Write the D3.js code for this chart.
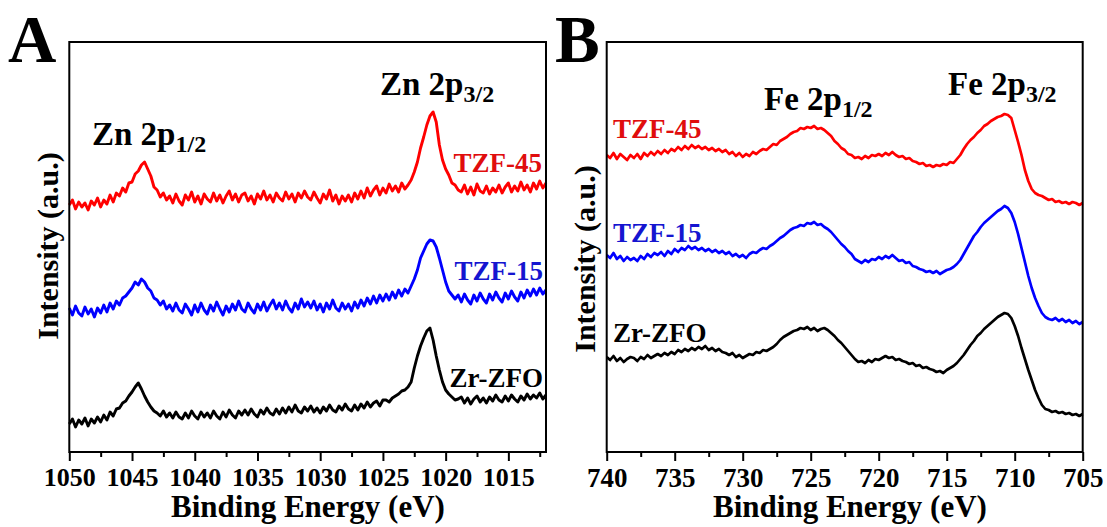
<!DOCTYPE html>
<html>
<head>
<meta charset="utf-8">
<script src="https://cdn.jsdelivr.net/npm/d3@7.9.0/dist/d3.min.js"></script>
<style>
  html, body { margin: 0; padding: 0; background: #fff; }
  svg { display: block; }
  text { font-family: "Liberation Serif", "Times New Roman", serif; font-weight: bold; }
</style>
</head>
<body>
<svg id="chart" width="1107" height="527"></svg>
<script>
// Zn 2p region, sampled every 0.25 eV from 1050 down to 1012
const zincStart = 1050, zincStep = 0.25;
const zincTZF45 = [
  275, 280, 271, 278, 273, 277, 270, 279,
  275, 282, 273, 280, 276, 285, 278, 287,
  284, 292, 288, 297, 298, 306, 309, 315,
  318, 311, 304, 293, 290, 283, 287, 280,
  284, 277, 286, 279, 275, 285, 280, 288, 278, 284, 276, 286,
  281, 278, 287, 279, 285, 277, 284, 289, 280, 286, 278, 285,
  287, 279, 284, 276, 286, 281, 289, 280, 285, 278, 287, 282,
  279, 288, 281, 286, 278, 287, 282, 289, 283,
  280, 288, 282, 277, 286, 281, 290, 279, 285, 276, 284, 279,
  285, 278, 287, 281, 289, 282, 292, 284, 290, 294, 285, 292,
  287, 296, 289, 294, 288, 297, 291, 295,
  300, 308, 318, 332, 343, 355, 364, 368,
  358, 335, 320, 311, 305, 297, 295, 290,
  288, 295, 286, 293, 285, 296, 289, 287, 294, 286, 292, 288,
  295, 287, 293, 297, 288, 294, 289, 298, 290, 295, 288, 297,
  291, 299, 292, 297
];
const zincTZF15 = [
  172, 165, 174, 167, 164, 173, 166, 171,
  163, 172, 167, 175, 168, 177, 171, 179,
  175, 182, 184, 188, 192, 198, 195, 201,
  198, 192, 189, 182, 180, 175, 179, 171,
  175, 169, 177, 170, 167, 176, 171, 165, 175, 168, 177, 170,
  166, 175, 169, 178, 171, 165, 174, 168, 176, 170, 179, 171,
  168, 177, 171, 167, 176, 170, 178, 169, 175, 180, 171, 177,
  170, 179, 172, 168, 177, 171, 181, 173, 178,
  172, 179, 170, 176, 168, 177, 171, 180, 172, 169, 177, 171,
  176, 169, 178, 172, 180, 174, 182, 176, 184, 177, 185, 179,
  186, 180, 188, 182, 190, 184, 191, 187,
  194, 201, 210, 222, 229, 236, 240, 239,
  233, 222, 210, 198, 189, 185, 181, 185,
  178, 186, 180, 176, 185, 179, 187, 181, 177, 186, 180, 188,
  182, 178, 187, 181, 189, 183, 179, 188, 182, 190, 184, 191,
  185, 192, 186, 190
];
const zincZrZFO = [
  56, 61, 53, 60, 56, 62, 54, 61,
  57, 63, 58, 65, 60, 68, 64, 71,
  72, 77, 79, 84, 88, 93, 97, 91,
  84, 78, 73, 69, 67, 64, 69, 63,
  67, 62, 68, 63, 61, 67, 62, 69, 64, 61, 68, 63,
  67, 62, 69, 64, 61, 68, 63, 70, 65, 62, 69, 65,
  70, 65, 71, 66, 63, 70, 66, 72, 67, 65, 71, 66,
  72, 67, 73, 68, 75, 69, 67, 73, 69,
  74, 68, 72, 67, 73, 69, 75, 70, 68, 74, 70, 76,
  71, 69, 75, 70, 76, 72, 78, 73, 77, 79, 74, 80,
  80, 78, 82, 84, 86, 89, 90, 93,
  98, 112, 124, 134, 142, 149, 152, 140,
  124, 110, 98, 90, 86, 83, 80, 81,
  83, 77, 82, 76, 81, 84, 78, 82, 77, 83, 79, 85,
  80, 78, 84, 79, 85, 81, 78, 84, 80, 86, 81, 85,
  82, 87, 81, 85
];

// Fe 2p region, sampled every 0.25 eV from 740 down to 705
const ironStart = 740, ironStep = 0.25;
const ironTZF45 = [
  325, 322, 327, 321, 326, 323, 320, 325,
  322, 326, 321, 327, 324, 328, 325, 329,
  326, 330, 327, 331, 329, 333, 330, 334,
  331, 335, 332, 334, 331, 333, 330, 332,
  329, 331, 328, 330, 326, 328, 324, 327,
  323, 326, 324, 328, 326, 329, 331, 330,
  333, 336, 335, 339, 341, 343, 346, 348,
  349, 352, 351, 353, 352, 354, 351, 352,
  350, 347, 344, 339, 336, 332, 330, 326,
  325, 322, 323, 321, 324, 322, 325, 324,
  326, 324, 327, 325, 328, 325, 323, 324,
  321, 322, 319, 318, 316, 317, 314, 315,
  313, 315, 314, 316, 315, 318, 317, 321,
  325, 331, 336, 340, 343, 347, 350, 354,
  356, 359, 361, 363, 364, 366, 365, 362,
  350, 338, 325, 310, 299, 291, 287, 285,
  284, 282, 280, 281, 278, 279, 277, 278,
  276, 278, 277, 275, 277
];
const ironTZF15 = [
  225, 222, 227, 221, 224, 219, 223, 220,
  222, 219, 224, 221, 226, 223, 227, 225,
  228, 224, 229, 226, 231, 228, 232, 230,
  234, 231, 233, 230, 232, 229, 231, 228,
  230, 227, 229, 226, 228, 224, 226, 223,
  225, 222, 226, 228, 227, 230, 232, 231,
  234, 236, 239, 242, 244, 247, 250, 252,
  253, 255, 254, 257, 256, 258, 255, 256,
  253, 251, 248, 244, 240, 236, 233, 229,
  226, 221, 219, 217, 220, 218, 221, 220,
  223, 221, 224, 222, 225, 222, 219, 220,
  217, 218, 214, 213, 211, 210, 208, 209,
  207, 209, 206, 208, 210, 211, 213, 216,
  220, 226, 232, 238, 244, 248, 253, 257,
  260, 263, 266, 269, 271, 274, 272, 267,
  258, 246, 232, 218, 204, 192, 182, 174,
  167, 163, 161, 160, 162, 159, 161, 158,
  160, 157, 159, 156, 158
];
const ironZrZFO = [
  123, 120, 124, 119, 122, 118, 121, 123,
  122, 119, 123, 121, 125, 122, 124, 126,
  124, 127, 125, 128, 126, 130, 128, 131,
  129, 132, 130, 133, 131, 134, 130, 132,
  129, 131, 128, 127, 125, 127, 123, 125,
  122, 124, 126, 125, 128, 127, 130, 129,
  131, 133, 136, 140, 143, 145, 147, 149,
  150, 152, 151, 153, 150, 152, 149, 151,
  152, 150, 147, 144, 140, 137, 133, 129,
  125, 121, 118, 119, 117, 120, 118, 121,
  120, 122, 124, 122, 123, 120, 121, 119,
  118, 116, 117, 114, 115, 112, 113, 111,
  110, 108, 109, 107, 110, 112, 114, 117,
  121, 125, 130, 135, 139, 144, 147, 151,
  154, 157, 160, 163, 165, 167, 166, 162,
  154, 144, 132, 121, 110, 100, 90, 82,
  75, 71, 70, 68, 69, 67, 68, 66,
  67, 65, 66, 64, 66
];

const zincMajor = [1050, 1045, 1040, 1035, 1030, 1025, 1020, 1015];
const zincMinor = [1047.5, 1042.5, 1037.5, 1032.5, 1027.5, 1022.5, 1017.5, 1012.5];
const ironMajor = [740, 735, 730, 725, 720, 715, 710, 705];
const ironMinor = [737.5, 732.5, 727.5, 722.5, 717.5, 712.5, 707.5];

const seriesNames = ["TZF-45", "TZF-15", "Zr-ZFO"];
const seriesColors = ["#ff0000", "#0000ff", "#000000"];
const labelColors = ["#e00d0d", "#1515d0", "#000000"];

const svg = d3.select("#chart");
svg.append("rect").attr("width", 1107).attr("height", 527).attr("fill", "#fff");

function drawPanel(cfg) {
  const x = d3.scaleLinear().domain(cfg.domain).range([cfg.left, cfg.right]);
  const y = d3.scaleLinear().domain([28, 438]).range([cfg.bottom, cfg.top]);
  const g = svg.append("g");

  const line = d3.line()
    .x((d, i) => x(cfg.start - i * cfg.step))
    .y(d => y(d));

  cfg.series.forEach((vals, k) => {
    g.append("path")
      .datum(vals)
      .attr("fill", "none")
      .attr("stroke", seriesColors[k])
      .attr("stroke-width", cfg.lineWidth)
      .attr("stroke-linejoin", "round")
      .attr("d", line);
  });

  // frame
  g.append("rect")
    .attr("x", cfg.left).attr("y", cfg.top)
    .attr("width", cfg.right - cfg.left).attr("height", cfg.bottom - cfg.top)
    .attr("fill", "none").attr("stroke", "#000").attr("stroke-width", 2);

  const minorAxis = d3.axisBottom(x).tickValues(cfg.minor).tickSize(5).tickFormat("");
  const majorAxis = d3.axisBottom(x).tickValues(cfg.major).tickSize(9)
    .tickPadding(7).tickFormat(d3.format("d"));

  g.append("g").attr("transform", `translate(0,${cfg.bottom})`).call(minorAxis)
    .call(a => a.select(".domain").remove())
    .call(a => a.selectAll("line").attr("stroke-width", 2));
  g.append("g").attr("transform", `translate(0,${cfg.bottom})`).call(majorAxis)
    .call(a => a.select(".domain").remove())
    .call(a => a.selectAll("line").attr("stroke-width", 2))
    .call(a => a.selectAll("text")
      .attr("fill", "#000")
      .style("font-size", cfg.tickFont)
      .style("font-family", "'Liberation Serif', serif")
      .style("font-weight", "bold"));

  g.append("text")
    .attr("x", cfg.xTitleX).attr("y", 517)
    .attr("text-anchor", "middle")
    .style("font-size", "31px")
    .text("Binding Energy (eV)");

  g.append("text")
    .attr("transform", `translate(${cfg.yTitleX},${cfg.yTitleY}) rotate(-90)`)
    .attr("text-anchor", "middle")
    .style("font-size", "30px")
    .text("Intensity (a.u.)");

  g.append("text")
    .attr("x", cfg.letterX).attr("y", 62)
    .style("font-size", "67px")
    .text(cfg.letter);

  cfg.labels.forEach((lab, k) => {
    g.append("text")
      .attr("x", lab[0]).attr("y", lab[1])
      .attr("text-anchor", cfg.labelAnchor)
      .attr("fill", labelColors[k])
      .style("font-size", "27px")
      .text(seriesNames[k]);
  });

  cfg.peaks.forEach(p => {
    const t = g.append("text").attr("x", p.x).attr("y", p.y).style("font-size", "33px");
    t.append("tspan").text(p.main);
    t.append("tspan").attr("dy", 7).style("font-size", "24px").text(p.sub);
  });
}

drawPanel({
  domain: [1050, 1012], left: 69.3, right: 546, top: 42, bottom: 452,
  start: zincStart, step: zincStep, lineWidth: 2.9, tickFont: "26px",
  series: [zincTZF45, zincTZF15, zincZrZFO],
  major: zincMajor, minor: zincMinor,
  xTitleX: 308, yTitleX: 58, yTitleY: 246,
  letter: "A", letterX: 8,
  labelAnchor: "end",
  labels: [[542, 172], [543, 280], [543, 387]],
  peaks: [
    { x: 92, y: 145, main: "Zn 2p", sub: "1/2" },
    { x: 380, y: 95, main: "Zn 2p", sub: "3/2" }
  ]
});

drawPanel({
  domain: [740, 705], left: 606.7, right: 1082.7, top: 42, bottom: 452,
  start: ironStart, step: ironStep, lineWidth: 2.7, tickFont: "27px",
  series: [ironTZF45, ironTZF15, ironZrZFO],
  major: ironMajor, minor: ironMinor,
  xTitleX: 850, yTitleX: 595, yTitleY: 259,
  letter: "B", letterX: 555,
  labelAnchor: "start",
  labels: [[613, 138], [613, 242], [613, 342]],
  peaks: [
    { x: 764, y: 110, main: "Fe 2p", sub: "1/2" },
    { x: 948, y: 95, main: "Fe 2p", sub: "3/2" }
  ]
});
</script>
</body>
</html>
